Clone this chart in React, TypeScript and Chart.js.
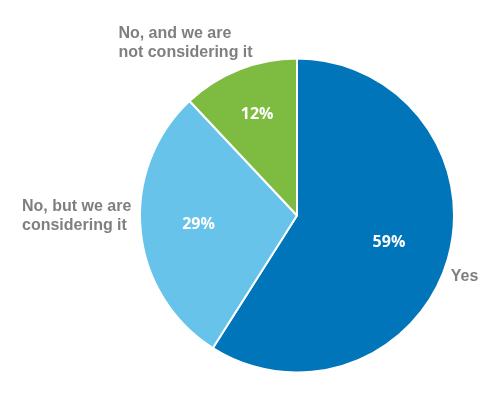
import React, { useEffect, useRef } from "react";
import { Chart, registerables } from "chart.js";

Chart.register(...registerables);

const categories: string[][] = [["Yes"], ["No, but we are", "considering it"], ["No, and we are", "not considering it"]];
const values: number[] = [59, 29, 12];
const percentLabels: string[] = ["59%", "29%", "12%"];
const colors: string[] = ["#0075B9", "#67C3EA", "#7EBB41"];

// label placement styles (relative to slice geometry)
const innerFrac = [0.61, 0.63, 0.69];
const outerOffsets = [
  { dx: 3, dy: 17 },
  { dx: -118.7, dy: -14.2 },
  { dx: -120.8, dy: -26.5 },
];

const labelPlugin = {
  id: "sliceLabels",
  afterDatasetsDraw(chart: any) {
    const ctx = chart.ctx as CanvasRenderingContext2D;
    const meta = chart.getDatasetMeta(0);
    ctx.save();
    meta.data.forEach((arc: any, i: number) => {
      const { x, y, startAngle, endAngle, outerRadius } = arc.getProps(
        ["x", "y", "startAngle", "endAngle", "outerRadius"],
        true
      );
      const mid = (startAngle + endAngle) / 2;
      const ri = outerRadius * innerFrac[i];
      ctx.fillStyle = "#FFFFFF";
      ctx.font = "bold 16px 'Open Sans', sans-serif";
      ctx.textAlign = "center";
      ctx.textBaseline = "middle";
      ctx.fillText(percentLabels[i], x + ri * Math.cos(mid), y + ri * Math.sin(mid));
      const ex = x + outerRadius * Math.cos(mid) + outerOffsets[i].dx;
      const ey = y + outerRadius * Math.sin(mid) + outerOffsets[i].dy;
      ctx.fillStyle = "#7F7F7F";
      ctx.font = "bold 16px 'Liberation Sans', Arial, sans-serif";
      ctx.textAlign = "left";
      const lines = categories[i];
      const lh = 19;
      lines.forEach((ln, k) => {
        ctx.fillText(ln, ex, ey + (k - (lines.length - 1) / 2) * lh);
      });
    });
    ctx.restore();
  },
};

export default function App() {
  const ref = useRef<HTMLCanvasElement>(null);
  useEffect(() => {
    document.body.style.margin = "0";
    const chart = new Chart(ref.current!, {
      type: "pie",
      data: {
        labels: categories.map((c) => c.join(" ")),
        datasets: [
          {
            data: values,
            backgroundColor: colors,
            borderColor: "#FFFFFF",
            borderWidth: 2,
          },
        ],
      },
      options: {
        responsive: false,
        maintainAspectRatio: false,
        animation: false,
        layout: { padding: { left: 139, right: 49, top: 57, bottom: 22 } },
        plugins: { legend: { display: false }, tooltip: { enabled: false } },
      },
      plugins: [labelPlugin],
    });
    return () => chart.destroy();
  }, []);
  return (
    <div style={{ width: 504, height: 396, background: "#FFFFFF" }}>
      <canvas ref={ref} width={504} height={396} style={{ display: "block" }} />
    </div>
  );
}
